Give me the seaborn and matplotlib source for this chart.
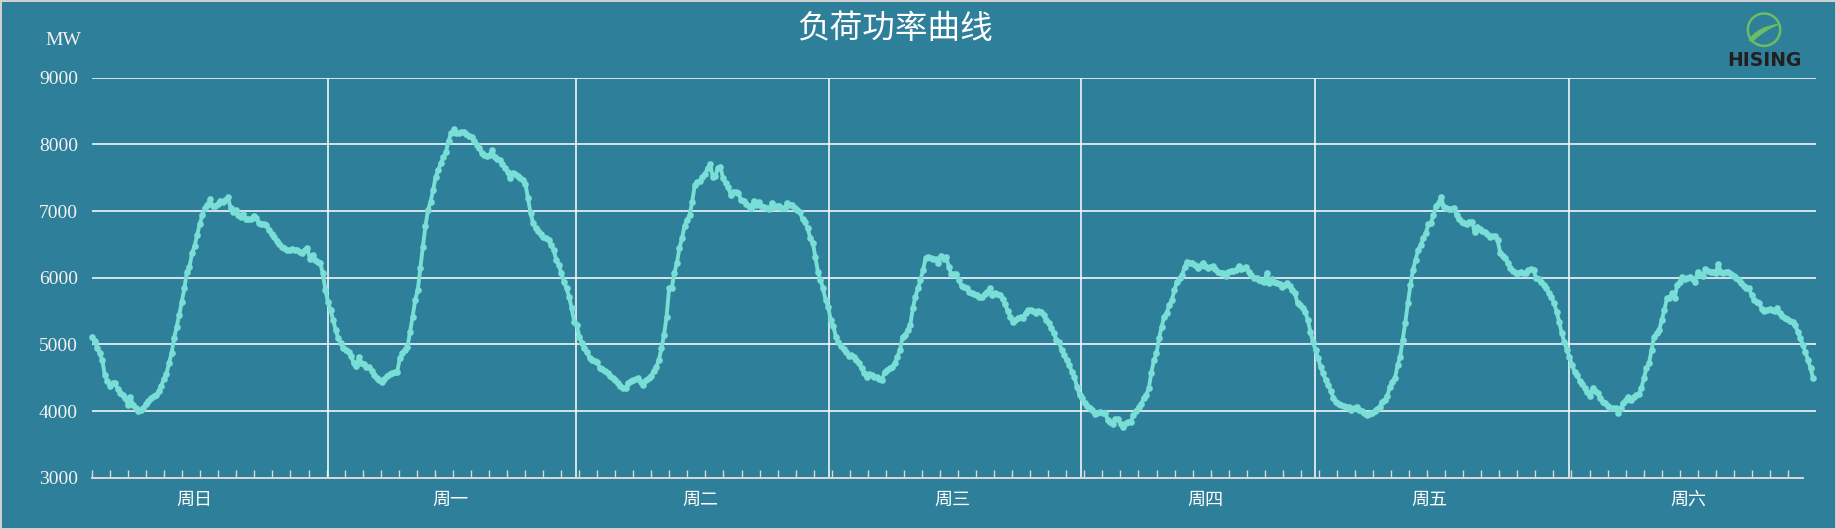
import numpy as np
import pandas as pd
import matplotlib
matplotlib.use("Agg")
import matplotlib.pyplot as plt
import matplotlib.transforms as mtransforms
from matplotlib.patches import Circle, PathPatch
from matplotlib.path import Path
import seaborn as sns

# ---------------- data ----------------
title = "负荷功率曲线"
unit = "MW"
day_names = ["周日", "周一", "周二", "周三", "周四", "周五", "周六"]
y_ticks = [3000, 4000, 5000, 6000, 7000, 8000, 9000]

# 15-minute load readings (MW), 96 per day
load_sun = [5115, 5045, 4950, 4865, 4765, 4540, 4450, 4370, 4420, 4425, 4330, 4270,
            4240, 4200, 4090, 4205, 4090, 4050, 4005, 4015, 4050, 4100, 4150, 4190,
            4220, 4235, 4300, 4380, 4480, 4555, 4715, 4865, 5090, 5265, 5440, 5640,
            5840, 6090, 6165, 6365, 6475, 6640, 6805, 6940, 7040, 7090, 7175, 7075,
            7075, 7105, 7155, 7140, 7160, 7205, 7050, 6990, 7015, 6940, 6905, 6955,
            6885, 6880, 6880, 6930, 6900, 6815, 6810, 6805, 6790, 6720, 6660, 6605,
            6550, 6505, 6460, 6440, 6415, 6420, 6425, 6420, 6410, 6390, 6365, 6420,
            6440, 6275, 6340, 6260, 6240, 6215, 6065, 5815, 5640, 5515, 5365, 5215]
load_mon = [5090, 5015, 4950, 4915, 4880, 4830, 4715, 4675, 4805, 4725, 4700, 4665,
            4665, 4600, 4540, 4490, 4460, 4440, 4475, 4520, 4550, 4575, 4585, 4590,
            4790, 4865, 4920, 4965, 5190, 5415, 5665, 5815, 6140, 6465, 6775, 7015,
            7140, 7315, 7515, 7615, 7715, 7805, 7890, 8055, 8165, 8225, 8165, 8175,
            8185, 8190, 8155, 8130, 8115, 8050, 7995, 7950, 7865, 7840, 7825, 7840,
            7915, 7815, 7785, 7760, 7700, 7640, 7580, 7490, 7575, 7560, 7530, 7490,
            7470, 7400, 7190, 6965, 6815, 6750, 6700, 6650, 6615, 6595, 6560, 6490,
            6415, 6265, 6190, 6065, 5940, 5840, 5715, 5540, 5340, 5290, 5115, 5015]
load_tue = [4950, 4880, 4800, 4765, 4750, 4735, 4640, 4625, 4600, 4565, 4530, 4490,
            4465, 4425, 4380, 4350, 4340, 4415, 4450, 4470, 4475, 4490, 4440, 4390,
            4465, 4490, 4530, 4600, 4665, 4765, 4940, 5140, 5415, 5840, 5840, 6065,
            6215, 6440, 6590, 6775, 6865, 6940, 7140, 7390, 7440, 7455, 7515, 7560,
            7640, 7700, 7515, 7525, 7640, 7665, 7490, 7415, 7365, 7240, 7290, 7280,
            7275, 7165, 7145, 7110, 7080, 7050, 7155, 7090, 7140, 7070, 7055, 7040,
            7025, 7115, 7055, 7070, 7075, 7040, 7040, 7115, 7090, 7090, 7040, 7010,
            6990, 6875, 6840, 6740, 6600, 6525, 6315, 6090, 5965, 5840, 5665, 5565]
load_wed = [5365, 5275, 5115, 5040, 4970, 4930, 4880, 4825, 4840, 4810, 4760, 4715,
            4640, 4575, 4515, 4555, 4540, 4515, 4505, 4485, 4465, 4590, 4620, 4640,
            4665, 4715, 4815, 4915, 5115, 5140, 5215, 5290, 5540, 5715, 5840, 5965,
            6115, 6290, 6305, 6290, 6275, 6275, 6225, 6325, 6275, 6315, 6165, 6055,
            6055, 6055, 5965, 5875, 5860, 5840, 5790, 5775, 5760, 5740, 5715, 5715,
            5760, 5790, 5840, 5740, 5765, 5750, 5740, 5675, 5605, 5500, 5415, 5340,
            5370, 5390, 5415, 5390, 5475, 5515, 5510, 5505, 5475, 5505, 5480, 5440,
            5360, 5325, 5240, 5165, 5065, 5040, 4915, 4840, 4765, 4690, 4590, 4515]
load_thu = [4365, 4240, 4190, 4125, 4075, 4040, 4015, 3955, 3965, 3990, 3970, 3975,
            3865, 3840, 3805, 3875, 3875, 3805, 3765, 3815, 3830, 3840, 3940, 4005,
            4055, 4100, 4190, 4240, 4340, 4575, 4765, 4865, 5090, 5265, 5415, 5475,
            5590, 5665, 5815, 5940, 5990, 6040, 6165, 6240, 6225, 6225, 6190, 6140,
            6180, 6225, 6175, 6140, 6160, 6175, 6125, 6090, 6070, 6065, 6025, 6090,
            6100, 6105, 6115, 6175, 6125, 6140, 6165, 6090, 6040, 6000, 5990, 5965,
            5950, 5940, 6065, 5925, 5975, 5940, 5915, 5900, 5865, 5890, 5915, 5875,
            5820, 5765, 5615, 5590, 5540, 5490, 5365, 5190, 5040, 4915, 4790, 4665]
load_fri = [4565, 4465, 4390, 4305, 4190, 4140, 4110, 4090, 4075, 4065, 4055, 4015,
            4040, 4055, 4015, 4005, 3965, 3940, 3960, 3975, 4005, 4030, 4065, 4140,
            4165, 4225, 4365, 4440, 4490, 4690, 4815, 5065, 5325, 5615, 5890, 6115,
            6265, 6415, 6490, 6590, 6665, 6805, 6825, 6940, 7075, 7125, 7205, 7065,
            7040, 7025, 7030, 7040, 6940, 6875, 6840, 6820, 6805, 6840, 6840, 6690,
            6755, 6730, 6705, 6680, 6655, 6615, 6620, 6625, 6565, 6375, 6330, 6290,
            6225, 6140, 6100, 6075, 6075, 6090, 6075, 6065, 6115, 6125, 6120, 5990,
            5975, 5940, 5890, 5840, 5775, 5715, 5615, 5490, 5340, 5165, 5040, 4915]
load_sat = [4805, 4690, 4590, 4540, 4455, 4400, 4340, 4290, 4225, 4340, 4305, 4265,
            4200, 4140, 4115, 4075, 4040, 4040, 4040, 3975, 4040, 4115, 4170, 4215,
            4165, 4215, 4235, 4255, 4340, 4490, 4640, 4715, 4915, 5115, 5165, 5215,
            5365, 5515, 5690, 5690, 5765, 5690, 5890, 5940, 6015, 5975, 5995, 6015,
            5975, 5940, 6090, 6040, 6025, 6125, 6105, 6090, 6090, 6065, 6205, 6090,
            6075, 6085, 6090, 6055, 6020, 5990, 5965, 5915, 5880, 5840, 5840, 5740,
            5665, 5640, 5625, 5525, 5505, 5520, 5525, 5515, 5505, 5540, 5475, 5430,
            5390, 5375, 5350, 5340, 5290, 5190, 5100, 4990, 4880, 4770, 4640, 4490]

# ---------------- layout / style (kept separate from data) ----------------
W, H = 1836, 529
BG = "#2E7F99"
LINE = "#78DED6"
AXIS_GRAY = "#D9D9D9"
PLOT_L, PLOT_R, PLOT_T, PLOT_B = 92, 1816, 77.7, 477.7
XAXIS_R = 1803
N_TICK_INTERVALS = 94
TICK_SPAN_END = 1788
sep_pos = [13.08, 26.8, 40.85, 54.8, 67.8, 81.87]          # in x-axis tick units
label_pos = [5.65, 19.85, 33.7, 47.7, 61.72, 74.14, 88.47]  # in x-axis tick units

load = load_sun + load_mon + load_tue + load_wed + load_thu + load_fri + load_sat
df = pd.DataFrame({"idx": np.arange(len(load)), "MW": load})

sns.set_theme(style="white")
plt.rcParams["font.family"] = ["Noto Sans CJK SC", "DejaVu Sans"]

fig = plt.figure(figsize=(W / 100, H / 100), dpi=100)
fig.patch.set_facecolor(BG)
fig.patch.set_edgecolor("#D0D0D0")
fig.patch.set_linewidth(2.0)

rect_main = [PLOT_L / W, 1 - PLOT_B / H, (PLOT_R - PLOT_L) / W, (PLOT_B - PLOT_T) / H]
rect_x = [PLOT_L / W, 1 - PLOT_B / H, (XAXIS_R - PLOT_L) / W, (PLOT_B - PLOT_T) / H]

ax2 = fig.add_axes(rect_x)
ax = fig.add_axes(rect_main)
ax2.set_zorder(1)
ax.set_zorder(2)
for a in (ax, ax2):
    a.set_facecolor("none")
    for s in a.spines.values():
        s.set_visible(False)

# --- main data axes ---
sns.lineplot(data=df, x="idx", y="MW", ax=ax, color=LINE, linewidth=2.8,
             marker="o", markersize=4.8, markeredgewidth=0, clip_on=False)
spacing = (TICK_SPAN_END - PLOT_L) / N_TICK_INTERVALS
px_per_pt = 2.565
ax.set_xlim(0, (PLOT_R - PLOT_L) / px_per_pt)
ax.set_ylim(y_ticks[0], y_ticks[-1])
ax.set_yticks(y_ticks)
ax.set_yticklabels([str(v) for v in y_ticks])
ax.set_xticks([])
ax.set_xlabel("")
ax.set_ylabel("")
ax.yaxis.grid(True, color="white", linewidth=1.1)
ax.xaxis.grid(False)
ax.set_axisbelow(True)
ax.get_ygridlines()[0].set_visible(False)
ax.tick_params(axis="y", length=0, pad=10, labelsize=14, labelcolor="#F2F2F2")
for lbl in ax.get_yticklabels():
    lbl.set_fontfamily("Liberation Serif")

# --- category x axis with day separators ---
ax2.set_xlim(0, (XAXIS_R - PLOT_L) / spacing)
ax2.set_ylim(0, 1)
ax2.set_xticks(np.arange(0, N_TICK_INTERVALS + 1))
ax2.set_yticks([])
ax2.spines["bottom"].set_visible(True)
ax2.spines["bottom"].set_color(AXIS_GRAY)
ax2.spines["bottom"].set_linewidth(1.4)
ax2.tick_params(axis="x", direction="in", length=6, width=1.0, color=AXIS_GRAY,
                labelbottom=False, bottom=True)
ax2.vlines(sep_pos, 0, 1, color="white", linewidth=1.1)
tr = mtransforms.blended_transform_factory(ax2.transData, fig.transFigure)
for p, name in zip(label_pos, day_names):
    ax2.text(p, 1 - 499.5 / H, name, transform=tr, ha="center", va="center",
             fontsize=13, color="white")

# --- texts ---
fig.text(895 / W, 1 - 29 / H, title, ha="center", va="center", fontsize=23.5,
         color="white")
fig.text(63.5 / W, 1 - 40 / H, unit, ha="center", va="center", fontsize=14,
         color="#F2F2F2", family="Liberation Serif")

# --- logo (decoration, pixel coordinates) ---
ov = fig.add_axes([0, 0, 1, 1])
ov.set_zorder(5)
ov.set_xlim(0, W)
ov.set_ylim(H, 0)
ov.axis("off")
ov.patch.set_alpha(0)
GREEN = "#6CBD61"
ov.add_patch(Circle((1764, 29.7), 16.2, fill=False, lw=1.8, ec=GREEN))
verts = [(1749, 40), (1758, 26), (1780, 24), (1780, 24), (1764, 30), (1752, 42), (1749, 40)]
codes = [Path.MOVETO, Path.CURVE3, Path.CURVE3, Path.LINETO, Path.CURVE3, Path.CURVE3,
         Path.CLOSEPOLY]
ov.add_patch(PathPatch(Path(verts, codes), fc=GREEN, ec=GREEN, lw=0.5))
ov.text(1764.5, 60, "HISING", ha="center", va="center", fontsize=13.5,
        fontweight="bold", color="#231F20", family=["DejaVu Sans"])

fig.savefig("out.png", dpi=100, facecolor=BG, edgecolor="#D0D0D0")
